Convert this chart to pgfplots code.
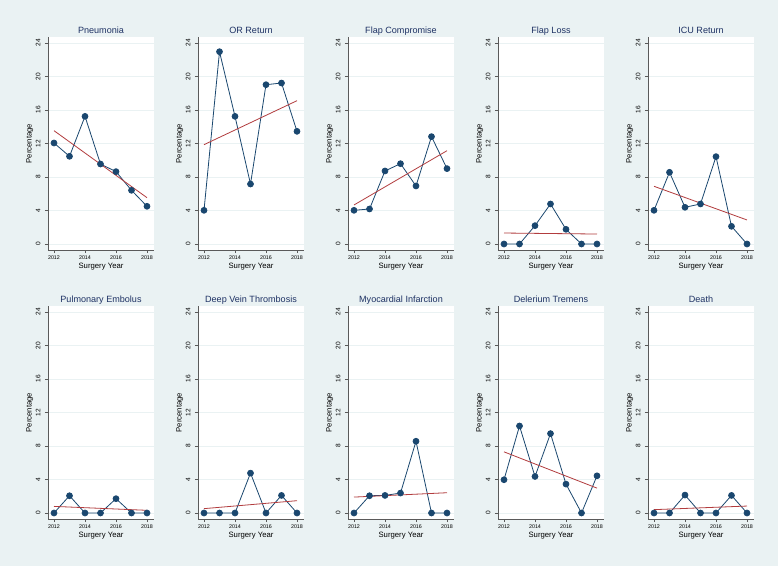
\documentclass[border=0pt]{standalone}
\usepackage{pgfplots}
\usepackage{pgfplotstable}
\pgfplotsset{compat=1.18}
\usepackage{fontspec}
\setmainfont{Liberation Sans}
\definecolor{bg}{RGB}{234,242,243}
\definecolor{navy}{RGB}{26,71,111}
\definecolor{maroonfit}{RGB}{178,60,62}
\definecolor{titlec}{RGB}{30,50,100}
\definecolor{axc}{RGB}{90,90,90}

\pgfplotstableread{
year pn orr fc fl icu pe dvt mi dt de
2012 12.06 4.02 4.02 0 4.02 0 0 0 3.97 0
2013 10.47 22.96 4.18 0 8.56 2.06 0 2.06 10.39 0
2014 15.24 15.24 8.72 2.19 4.38 0 0 2.10 4.36 2.14
2015 9.55 7.16 9.59 4.78 4.78 0 4.76 2.38 9.48 0
2016 8.64 19.02 6.93 1.75 10.43 1.71 0 8.57 3.45 0
2017 6.41 19.22 12.82 0 2.11 0 2.10 0 0 2.10
2018 4.50 13.45 9.00 0 0 0 0 0 4.44 0
}\data

\pgfplotsset{common/.style={
  scale only axis, width=79.5pt, height=159.75pt, anchor=south west,
  xmin=2011.613, xmax=2018.452, ymin=-0.716, ymax=24.716,
  axis lines=left, axis line style={-, draw=axc, line width=0.5pt},
  xtick={2012,2014,2016,2018}, ytick={0,4,...,24},
  tick align=outside, major tick length=2.4pt, tick style={draw=axc, line width=0.5pt},
  ymajorgrids, grid style={draw=bg, line width=0.6pt},
  axis background/.style={fill=white},
  /pgf/number format/assume math mode=true,
  /pgf/number format/set thousands separator={},
  xticklabel style={font=\fontsize{4}{4}\selectfont, anchor=base},
  xticklabel shift=4.6pt,
  yticklabel style={font=\fontsize{4.9}{4.9}\selectfont, rotate=90, anchor=base},
  yticklabel shift=3.4pt,
  every axis title/.style={at={(axis description cs:0.5,1.0141)}, anchor=base,
     font=\fontsize{6.8}{6.8}\selectfont, text=titlec},
  every axis x label/.style={at={(axis description cs:0.5,-0.0892)}, anchor=base,
     font=\fontsize{5.8}{5.8}\selectfont},
  every axis y label/.style={at={(axis description cs:-0.1547,0.5)}, rotate=90, anchor=base,
     font=\fontsize{5.8}{5.8}\selectfont},
  xlabel={Surgery Year}, ylabel={Percentage},
}}

\newcommand\panel[6]{%
\begin{axis}[common, at={({36pt+112.5pt*#1},{237pt-201.75pt*#2})}, title={#3}]
\addplot[navy, line width=0.6pt, mark=*, mark size=2.2pt, mark options={fill=navy, draw=navy}] table[x=year,y=#4]{\data};
\addplot[maroonfit, line width=0.6pt, no marks] coordinates {(2012,#5) (2018,#6)};
\end{axis}}

\begin{document}
\begin{tikzpicture}
\fill[bg] (0,0) rectangle (583.5pt,424.5pt);
\panel{0}{0}{Pneumonia}{pn}{13.53}{5.53}
\panel{1}{0}{OR Return}{orr}{11.86}{17.11}
\panel{2}{0}{Flap Compromise}{fc}{4.66}{11.14}
\panel{3}{0}{Flap Loss}{fl}{1.31}{1.19}
\panel{4}{0}{ICU Return}{icu}{6.89}{2.87}
\panel{0}{1}{Pulmonary Embolus}{pe}{0.79}{0.32}
\panel{1}{1}{Deep Vein Thrombosis}{dvt}{0.52}{1.47}
\panel{2}{1}{Myocardial Infarction}{mi}{1.90}{2.42}
\panel{3}{1}{Delerium Tremens}{dt}{7.30}{2.97}
\panel{4}{1}{Death}{de}{0.40}{0.83}
\end{tikzpicture}
\end{document}
